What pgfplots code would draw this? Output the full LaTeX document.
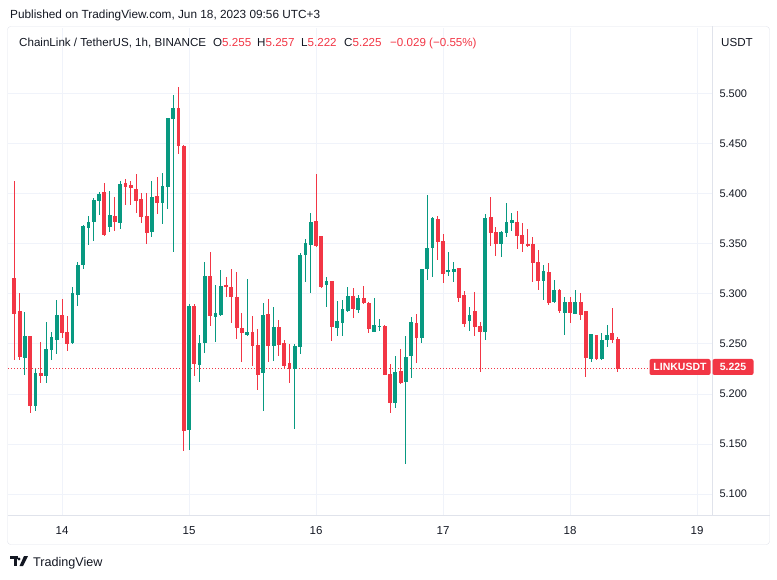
\documentclass[border=0pt]{standalone}
\usepackage{pgfplots}
\pgfplotsset{compat=1.18}
\usepackage{pgfplotstable}
\usepackage{fontspec}
\setmainfont{Liberation Sans}

\definecolor{upc}{HTML}{089981}
\definecolor{dnc}{HTML}{F23645}
\definecolor{gridc}{HTML}{F0F3FA}
\definecolor{txt}{HTML}{131722}
\definecolor{framec}{HTML}{E0E3EB}

% hourly candles, h = hours after Jun 14 00:00 (UTC+3)
\pgfplotstableread{
h    O     H     L     C
-7   5.236 5.282 5.219 5.258
-5   5.188 5.225 5.183 5.221
-3   5.218 5.272 5.211 5.245
-2   5.244 5.262 5.234 5.257
-1   5.254 5.294 5.240 5.279
2    5.251 5.307 5.250 5.301
3    5.299 5.332 5.288 5.329
4    5.329 5.369 5.325 5.368
5    5.366 5.378 5.349 5.372
6    5.372 5.396 5.353 5.394
7    5.393 5.402 5.379 5.400
9    5.367 5.403 5.362 5.379
11   5.371 5.413 5.365 5.410
17   5.362 5.413 5.357 5.397
19   5.391 5.421 5.370 5.408
20   5.407 5.476 5.385 5.476
21   5.475 5.499 5.342 5.486
24   5.164 5.290 5.144 5.288
26   5.229 5.259 5.212 5.251
27   5.251 5.332 5.241 5.318
29   5.277 5.309 5.252 5.281
30   5.279 5.324 5.278 5.308
35   5.259 5.315 5.258 5.262
38   5.221 5.291 5.183 5.279
40   5.248 5.287 5.233 5.267
44   5.225 5.250 5.165 5.248
45   5.247 5.341 5.240 5.339
46   5.339 5.355 5.312 5.351
47   5.349 5.381 5.301 5.372
50   5.309 5.317 5.287 5.313
52   5.266 5.293 5.258 5.273
53   5.271 5.294 5.258 5.285
54   5.283 5.307 5.282 5.298
56   5.284 5.299 5.281 5.296
59   5.262 5.296 5.262 5.269
60   5.267 5.275 5.263 5.268
63   5.191 5.238 5.186 5.222
65   5.212 5.258 5.130 5.237
66   5.238 5.277 5.216 5.272
68   5.256 5.325 5.251 5.325
69   5.325 5.399 5.314 5.346
70   5.346 5.377 5.317 5.376
73   5.322 5.342 5.318 5.324
74   5.322 5.332 5.312 5.325
77   5.273 5.287 5.263 5.279
80   5.262 5.380 5.254 5.376
83   5.350 5.363 5.337 5.362
84   5.361 5.391 5.357 5.372
85   5.371 5.381 5.363 5.374
91   5.313 5.329 5.294 5.323
93   5.292 5.314 5.291 5.304
95   5.281 5.297 5.259 5.292
97   5.280 5.304 5.280 5.292
100  5.235 5.260 5.232 5.260
102  5.235 5.261 5.234 5.254
103  5.254 5.269 5.247 5.259
}\upbars

\pgfplotstableread{
h    O     H     L     C
-9   5.316 5.413 5.234 5.280
-8   5.283 5.301 5.234 5.237
-6   5.258 5.258 5.181 5.188
-4   5.221 5.252 5.211 5.218
0    5.279 5.295 5.256 5.261
1    5.262 5.278 5.243 5.250
8    5.402 5.411 5.358 5.359
10   5.378 5.397 5.363 5.372
12   5.411 5.415 5.389 5.407
13   5.409 5.413 5.389 5.406
14   5.405 5.420 5.381 5.393
15   5.395 5.401 5.371 5.377
16   5.378 5.401 5.350 5.361
18   5.398 5.417 5.380 5.391
22   5.486 5.507 5.440 5.448
23   5.448 5.449 5.143 5.163
25   5.288 5.290 5.218 5.230
28   5.318 5.342 5.268 5.278
31   5.309 5.317 5.297 5.307
32   5.307 5.325 5.271 5.297
33   5.297 5.322 5.255 5.266
34   5.266 5.281 5.232 5.261
36   5.262 5.278 5.228 5.248
37   5.249 5.265 5.204 5.219
39   5.280 5.295 5.232 5.248
41   5.267 5.274 5.238 5.249
42   5.251 5.254 5.225 5.228
43   5.231 5.250 5.211 5.225
48   5.373 5.420 5.347 5.348
49   5.358 5.358 5.306 5.307
51   5.313 5.313 5.253 5.267
55   5.298 5.306 5.276 5.285
57   5.296 5.308 5.290 5.291
58   5.291 5.292 5.261 5.265
61   5.268 5.269 5.219 5.219
62   5.220 5.230 5.181 5.191
64   5.223 5.245 5.210 5.211
67   5.271 5.280 5.231 5.256
71   5.375 5.378 5.334 5.352
72   5.353 5.360 5.311 5.320
75   5.326 5.326 5.292 5.296
76   5.299 5.303 5.267 5.270
78   5.283 5.302 5.258 5.267
79   5.268 5.272 5.222 5.262
81   5.377 5.397 5.348 5.361
82   5.362 5.367 5.338 5.350
86   5.372 5.383 5.345 5.358
87   5.359 5.371 5.342 5.350
88   5.350 5.365 5.347 5.348
89   5.350 5.357 5.312 5.331
90   5.332 5.344 5.304 5.313
92   5.322 5.331 5.289 5.291
94   5.304 5.305 5.281 5.283
96   5.292 5.297 5.271 5.281
98   5.292 5.301 5.274 5.279
99   5.283 5.283 5.217 5.236
101  5.259 5.259 5.234 5.235
104  5.261 5.286 5.251 5.254
105  5.255 5.257 5.222 5.225
}\downbars

\pgfplotsset{
  wick/.style={draw=none, mark=none,
    error bars/.cd, y dir=both, y explicit, error mark=none,
    error bar style={line width=1pt, draw=#1}},
  body/.style={draw=none, mark=none,
    error bars/.cd, y dir=both, y explicit, error mark=none,
    error bar style={line width=3.8pt, draw=#1}},
}

\begin{document}
\begin{tikzpicture}[x=1pt,y=1pt]
\useasboundingbox (0,0) rectangle (777,579);

% panel frame and scale separators
\draw[framec, rounded corners=3pt] (7.5,34.5) rectangle (769.5,552.5);
\draw[framec] (712,64) -- (712,552.5);
\draw[framec] (7.5,64) -- (769.5,64);

\begin{axis}[
  at={(8pt,64pt)}, anchor=south west,
  width=704pt, height=487pt, scale only axis,
  xmin=-10.205, xmax=122.83,
  ymin=5.079, ymax=5.566,
  axis line style={draw=none},
  major tick length=0pt,
  xtick={0,24,48,72,96,120},
  xticklabels={14,15,16,17,18,19},
  ytick={5.1,5.15,5.2,5.25,5.3,5.35,5.4,5.45,5.5},
  yticklabel pos=right,
  /pgf/number format/assume math mode=true,
  yticklabel style={/pgf/number format/fixed, /pgf/number format/fixed zerofill,
    /pgf/number format/precision=3, font=\fontsize{11}{13}\selectfont,
    text=txt, anchor=west, xshift=4pt},
  xticklabel style={font=\fontsize{11.5}{13}\selectfont, text=txt, yshift=-8pt},
  grid=major,
  grid style={gridc, line width=1pt},
]
  % dotted last-price line
  \addplot[dnc, line width=1pt, dash pattern=on 1pt off 2pt] coordinates {(-10.2,5.225) (110.9,5.225)};

  % wicks
  \addplot[wick=upc] table[x=h, y expr={(\thisrow{H}+\thisrow{L})/2},
    y error expr={(\thisrow{H}-\thisrow{L})/2}] {\upbars};
  \addplot[wick=dnc] table[x=h, y expr={(\thisrow{H}+\thisrow{L})/2},
    y error expr={(\thisrow{H}-\thisrow{L})/2}] {\downbars};
  % bodies
  \addplot[body=upc] table[x=h, y expr={(\thisrow{O}+\thisrow{C})/2},
    y error expr={max(abs(\thisrow{C}-\thisrow{O})/2,0.0006)}] {\upbars};
  \addplot[body=dnc] table[x=h, y expr={(\thisrow{O}+\thisrow{C})/2},
    y error expr={max(abs(\thisrow{C}-\thisrow{O})/2,0.0006)}] {\downbars};
\end{axis}

% price labels
\node[fill=dnc, text=white, font=\bfseries\fontsize{10.5}{12}\selectfont,
  rounded corners=2pt, minimum width=61pt, minimum height=16pt, inner sep=0pt]
  at (680,212) {LINKUSDT};
\node[fill=dnc, text=white, font=\bfseries\fontsize{10.5}{12}\selectfont,
  rounded corners=2pt, minimum width=41pt, minimum height=16pt, inner sep=0pt]
  at (733,212) {5.225};

% header
\node[anchor=base west, inner sep=0pt, text=txt, font=\fontsize{11.8}{13}\selectfont]
  at (10,560) {Published on TradingView.com, Jun 18, 2023 09:56 UTC+3};
\begin{scope}[every node/.style={anchor=base west, inner sep=0pt, text=txt,
    font=\fontsize{11.6}{13}\selectfont}]
  \node at (19,532) {ChainLink / TetherUS, 1h, BINANCE};
  \node at (213,532) {O\textcolor{dnc}{5.255}};
  \node at (257,532) {H\textcolor{dnc}{5.257}};
  \node at (301,532) {L\textcolor{dnc}{5.222}};
  \node at (344,532) {C\textcolor{dnc}{5.225}};
  \node at (390,532) {\textcolor{dnc}{−0.029 (−0.55\%)}};
  \node at (721,532) {USDT};
\end{scope}

% footer logo
\fill[txt] (10,20) rectangle (18,23);
\fill[txt] (13.5,13) rectangle (16.5,23);
\fill[txt] (19,20) circle (1.6);
\fill[txt] (24,23) -- (28,23) -- (23,13) -- (19.5,13) -- cycle;
\node[anchor=base west, inner sep=0pt, text=txt, font=\fontsize{12.6}{14}\selectfont]
  at (33,13) {TradingView};
\end{tikzpicture}
\end{document}
